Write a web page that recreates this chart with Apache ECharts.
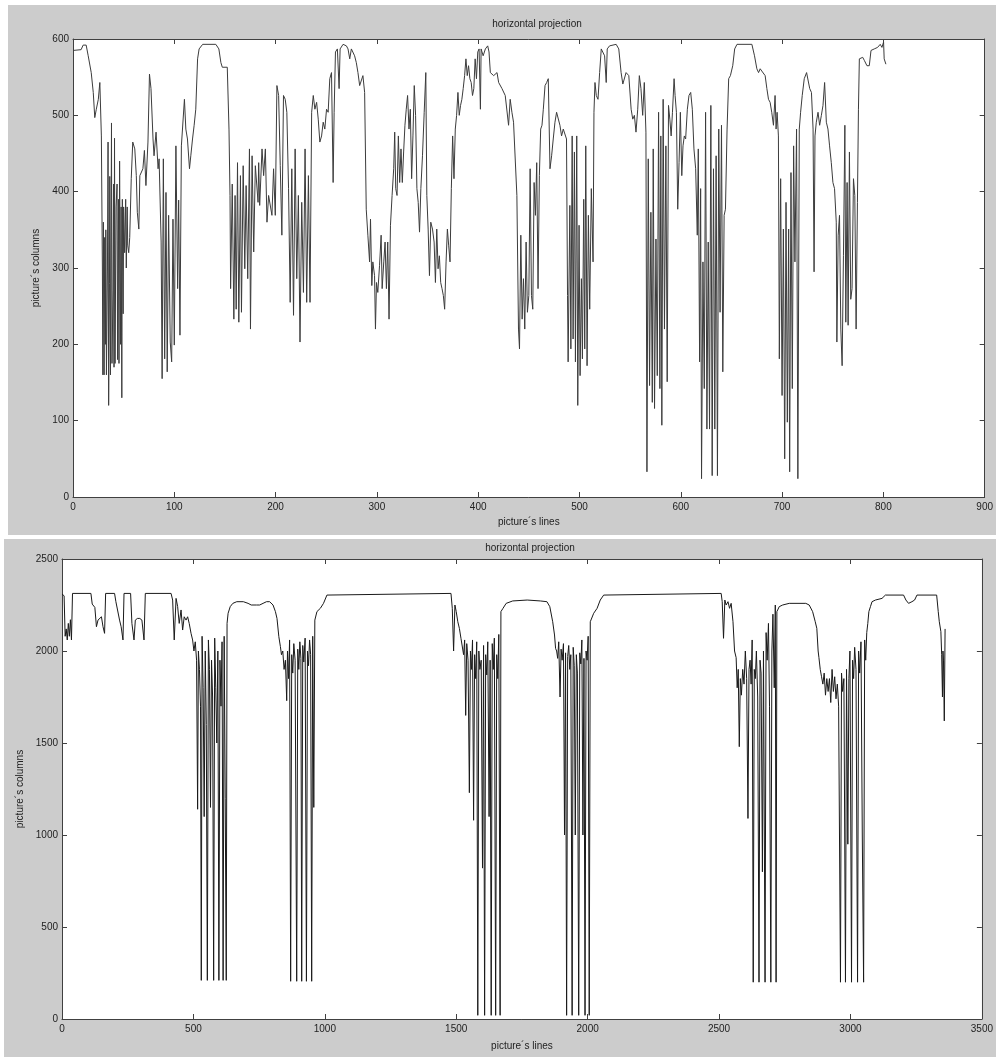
<!DOCTYPE html>
<html><head><meta charset="utf-8">
<script src="https://cdn.jsdelivr.net/npm/echarts@6/dist/echarts.min.js"></script>
<style>html,body{margin:0;padding:0;background:#fff}#c{width:996px;height:1057px}</style>
</head><body><div id="c"></div>
<script>
// Top chart: [picture line, projection value]
const topSeries = [
[0,585],[8,586],[10,592],[13,592],[15,578],[18,556],[20,530],[21.5,497],[23,508],[25,521],[26.5,543],[28,473],
[29,300],[29.5,160],[30,360],[30.7,160],[31.3,340],[32,200],[32.4,350],[33,160],[34,300],[34.6,465],[35.2,120],[36,280],[36.3,420],[37,160],[38,490],[38.5,175],[39.5,270],[40,410],[40.5,170],[41,470],[41.5,175],[42.5,380],[43.5,410],[44,180],[45,390],[45.4,175],[46,440],[47,200],[47.5,380],[48.2,130],[48.7,390],[49.5,240],[50,380],[51,320],[52,390],[52.6,300],[53.5,380],[54,330],[55,320],[56,340],
[57.5,417],[59,465],[61,456],[62.5,421],[63.5,373],[65,351],[66,421],[69,430],[70.5,454],[72,408],[74,465],[75.5,554],[77,535],[79,469],[80,447],[82,478],[84,430],[85,443],[87,334],[88,155],[89.2,443],[90.5,181],[91.8,399],[93,164],[94.4,369],[96,203],[97.4,177],[98.7,364],[100,199],[101.6,460],[103.3,273],[104.3,389],[105.6,212],[107,460],[108.2,460],[110,521],[111.4,482],[113,469],[115,430],[116.3,447],[118,469],[119.6,487],[121.2,508],[123,574],[124.5,587],[128,593],[141,593],[144,587],[146,569],[147.4,563],[152.3,563],[154,482],[155,395],
[155.6,273],[157.2,410],[158.8,233],[160,395],[161.1,246],[162.4,438],[163.7,229],[165.3,421],[166.3,242],[168,434],[169.6,299],[170.9,408],[172.5,286],[174.2,456],[175.2,220],[176.8,447],[178.4,321],[180,434],[182.7,386],[183.3,438],[184.3,382],[186.6,456],[188.2,421],[189.9,456],[191.5,360],[193.1,395],[194.8,395],[196.4,369],[198,430],[199.7,369],[201.3,539],[203,526],[204.6,434],[206.2,343],[207.8,526],[209.5,521],[211.1,504],[212.8,404],[214.4,255],[216,430],[217.7,238],[219.3,456],[220.9,286],[222.5,395],[224.1,203],[225.8,386],[227.5,268],[229.1,456],[230.7,255],[232.4,421],
[234,255],[235.6,504],[237.2,526],[238.8,508],[240.5,517],[242.1,495],[243.7,465],[245.4,473],[247,491],[248.6,482],[250.3,508],[251.9,504],[253.5,548],[255.2,556],[256.8,412],[257.8,504],[259.1,583],[261,587],[262.7,535],[263.7,587],[266.6,593],[269.9,591],[271.5,587],[273.2,574],[274.8,587],[276.4,589],[278,578],[279.7,569],[281.3,556],[283,539],[284.6,539],[286.2,552],[287.9,530],
[289.5,377],[291.1,343],[292.8,308],[293.7,364],[295,277],[296,308],[297.7,290],[298.6,220],[299.6,281],[300.9,268],[302.6,303],[304.2,343],[305.2,273],[306.8,308],[308.1,334],[309.4,273],[310.7,334],[312,233],[313.4,356],[315,395],[316.6,430],[317.6,478],[318.6,404],[319.9,395],[321.2,473],[322.5,412],[323.8,456],[325.1,412],[326.4,452],[327.7,487],[329,508],[330.3,526],[331.7,482],[333,508],[334.3,417],[335.6,473],[336.9,539],[338.2,500],[339.5,404],[340.8,386],[342.1,347],[343.4,404],[345,447],[346.7,504],[348.3,556],[349.3,395],[350.6,351],[351.9,290],[353.2,360],[354.9,351],[356.5,334],[357.8,281],[359.1,351],[360.4,299],[361.7,316],[363,281],[364.3,273],[365.6,264],[366.9,246],[368.3,308],[369.6,351],[370.9,329],[372.2,308],[373.5,404],[374.8,473],[376.1,417],[377.4,482],[378.7,500],[380,530],[381.3,500],[382.6,513],[383.9,521],[385.2,535],[386.6,552],[387.9,574],[389.2,552],[390.5,565],[391.8,548],[393.1,543],[394.4,526],[395.7,535],[397,574],[398.3,548],[399.6,583],[400.9,587],[402.2,508],[402.9,587],[404.9,578],[407.1,587],[409.4,591],[410.7,583],[412,556],[415.3,552],[418.6,556],[420.2,543],[423.5,535],[426.7,526],[430,487],[431.6,521],[433.3,504],[434.9,491],[436.5,491],
[438.2,395],[439.8,220],[440.8,194],[442.1,343],[443.4,233],[444.7,286],[446,220],[447.3,334],[448.6,242],[450,264],[451.3,430],[452.6,264],[453.9,246],[455.2,412],[456.5,369],[457.8,438],[459.1,273],[460.4,421],[461.7,482],[463,487],[464.3,508],[466,539],
[467.6,543],[469.2,548],[470.9,430],[472.5,447],[474.1,469],[475.8,491],[477.4,504],[479,504],[480.7,487],[482.3,473],[484,482],[485.6,482],[487.2,469],
[488.2,264],[488.8,177],[490.5,382],[491.5,194],[492.8,473],[493.7,207],[495,452],[496,177],[497.3,473],[498.3,120],[499.6,356],[500.6,159],[501.9,286],[502.9,181],[504.2,390],[505.2,194],[506.2,460],[507.5,172],[508.8,369],[510.1,246],[511.7,404],[513.4,308],[514.3,504],[515.3,543],[516.6,526],[518.3,521],[519.9,556],[521.5,587],[523.2,587],[524.8,578],[526.4,543],[527.4,587],[529.7,591],[536.2,593],[538.8,587],[541.1,556],[542.8,541],[544.4,543],[546,556],[548.7,552],[551,508],[552.6,495],[554.2,500],[555.8,478],[557.5,508],[559.1,552],[560.7,535],[562.4,500],[564,543],[565.6,478],
[566.6,33],[567.9,443],[569.2,146],[570.5,373],[571.9,124],[572.8,456],[574.1,116],[575.5,338],[576.8,159],[578.1,504],[579.4,142],[580.3,473],[581.3,94],[582.6,521],[583.9,220],[585.3,460],[586.6,151],[587.9,513],[589.2,495],[590.5,473],[591.8,504],[593.4,548],[594.4,526],[595.7,504],[597,377],[598.3,438],[599.6,504],[601,421],[602.2,460],[603.5,473],[604.8,469],[606.5,508],[608.1,526],[609.8,530],[611.4,508],[613,456],[614.7,430],[616.3,343],[617.3,456],
[618.6,177],[619.6,404],[620.5,24],[621.9,308],[623.2,142],[624.5,504],[625.8,89],[627.1,334],[628.4,89],[629.7,513],[631,28],[632.3,430],[633.6,89],[634.9,447],[636.2,28],[637.5,482],[638.8,242],[640.2,487],[641.5,164],[642.8,369],[644.1,377],[645.7,482],[647.3,548],[649,552],[651.3,565],[653.2,587],[655.5,593],[670.2,593],[672.8,578],[675.1,561],[676.8,556],[678.4,561],[680,558],[681.7,558],[683.3,552],[685,535],[686.6,521],[688.2,517],[689.8,504],[691.5,487],[693.1,526],[694.1,482],[695.1,504],[696.4,473],
[697.3,181],[698.6,417],[700,133],[701.3,351],[702.6,50],[703.9,386],[705.2,98],[706.5,351],[707.5,33],[708.8,425],[710.1,142],[711.4,460],[712.7,308],[714.3,482],[715.6,24],[717,482],[718.3,504],[719.9,526],[721.9,548],[724.2,556],
[727.3,535],[729,530],[730.6,482],[731.6,295],[732.5,473],[733.8,491],[735.5,504],[737.1,487],[738.8,500],[740.4,513],[742,543],[743.7,491],[745.3,482],[746.9,460],[748.6,438],[750.2,412],[751.8,404],[753.5,360],
[754.1,203],[755.4,343],[756.7,369],[758,220],[759.3,172],[760.6,316],[762,487],[762.9,229],[764.2,412],[765.2,225],[766.5,452],[767.8,259],[769.1,273],[770.5,417],[771.8,395],[773.1,220],[774.4,386],[775.4,508],[776.3,574],[778,574],[779.6,576],[781.2,572],[783.8,565],[786.1,565],[787.8,585],[791,587],[794.3,589],[796.9,593],[798.6,589],[800.2,596],[800.8,574],[802.5,567]
];

// Bottom chart: [picture line, projection value]
const bottomSeries = [
[0,2310],[8,2300],[12,2080],[16,2120],[20,2060],[24,2150],[28,2080],[32,2170],[36,2060],[40,2313],
[110,2313],[115,2255],[125,2237],[131,2132],[137,2168],[150,2186],[156,2132],[162,2096],[166,2313],
[200,2313],[205,2268],[212,2259],[219,2168],[225,2132],[232,2060],[236,2313],[261,2313],[266,2150],[274,2060],[279,2168],[287,2177],[296,2177],[304,2168],[312,2060],[317,2313],
[415,2313],[421,2277],[427,2060],[434,2286],[440,2241],[446,2150],[453,2223],[459,2114],[465,2186],[472,2168],[478,2186],[484,2150],[491,2096],[497,2060],
[502,2000],[507,2050],[512,1950],[516,1140],[519,2000],[523,1900],[527,1700],[530,210],[533,2080],[537,1800],[541,1100],[545,2000],[549,1600],[553,210],[557,2060],[561,1900],[565,1150],[569,1950],[573,1750],[577,210],[581,2070],[585,1800],[589,1500],[593,2000],[597,210],[601,1950],[605,1700],[609,2050],[613,210],[617,2080],[621,1200],[625,210],[628,2150],[632,2205],
[640,2241],[650,2259],[665,2268],[690,2268],[708,2259],[720,2250],[727,2241],[740,2250],[752,2250],[765,2259],[778,2268],[790,2268],[803,2250],[812,2214],[818,2177],[825,2078],[831,2024],
[835,1980],[840,2000],[845,1900],[850,1950],[855,1730],[858,2000],[862,1850],[866,2060],[870,205],[874,1980],[878,1880],[882,2040],[887,1950],[893,205],[897,2010],[901,1900],[905,2050],[909,1960],[912,205],[916,2030],[920,1940],[925,2070],[930,205],[934,2000],[938,1920],[942,2060],[946,1980],[950,205],[954,2080],[958,1150],[962,2168],[970,2214],[983,2232],[995,2259],[1008,2304],[1015,2313],
[1480,2313],
[1485,2232],[1490,2000],[1495,2250],[1500,2214],[1506,2159],[1512,2123],[1518,2069],[1524,2078],[1528,1980],[1532,2060],[1536,1650],[1540,2040],[1545,1950],[1550,1230],[1554,2000],[1558,1900],[1562,2060],[1566,1080],[1570,1980],[1574,1850],[1578,2050],[1582,20],[1586,2000],[1590,1900],[1595,1950],[1600,820],[1604,2030],[1608,20],[1612,1980],[1616,1870],[1620,2050],[1625,1100],[1629,1950],[1633,20],[1637,2040],[1641,1900],[1645,2070],[1650,20],[1654,1980],[1658,1850],[1662,2090],[1667,20],[1670,2214],[1678,2232],[1690,2259],[1715,2272],[1770,2277],[1820,2272],[1845,2268],[1856,2241],[1862,2232],[1867,2159],[1874,2087],[1878,2014],
[1882,2000],[1886,1960],[1890,2050],[1895,1750],[1899,2010],[1903,1950],[1908,2040],[1912,1000],[1916,1990],[1920,20],[1924,1970],[1928,2030],[1932,1900],[1936,1980],[1941,20],[1945,2020],[1949,1920],[1953,1000],[1957,1980],[1961,1880],[1966,20],[1970,1990],[1974,1930],[1978,2060],[1982,1000],[1986,1960],[1990,20],[1994,2000],[1998,1950],[2002,2080],[2006,20],[2010,2159],[2023,2205],[2036,2232],[2048,2277],[2061,2304],[2063,2313],
[2508,2313],
[2512,2268],[2517,2069],[2522,2277],[2527,2250],[2534,2268],[2540,2232],[2546,2259],[2553,2159],[2559,2000],[2565,1964],[2569,1800],[2573,1900],[2577,1480],[2581,1850],[2585,1760],[2590,1900],[2595,1820],[2600,2000],[2605,1850],[2610,1090],[2614,1900],[2618,1950],[2622,1820],[2626,2060],[2630,200],[2634,1900],[2638,1850],[2642,2000],[2647,1750],[2652,200],[2656,1950],[2660,1880],[2665,800],[2669,2000],[2675,200],[2679,2100],[2683,1950],[2688,2150],[2692,1700],[2697,200],[2701,2000],[2705,2200],[2710,1800],[2714,2250],[2717,200],[2720,2214],[2729,2241],[2742,2250],[2767,2259],[2830,2259],[2843,2250],[2856,2214],[2866,2159],[2872,2123],[2877,2000],[2880,1964],
[2885,1900],[2890,1860],[2895,1820],[2900,1880],[2905,1760],[2910,1850],[2915,1780],[2920,1850],[2925,1720],[2930,1900],[2935,1780],[2940,1860],[2945,1740],[2950,1820],[2955,1700],[2962,200],[2966,1880],[2970,1780],[2975,1850],[2981,200],[2985,1900],[2990,950],[2994,1850],[2998,2000],[3004,200],[3008,1950],[3012,1850],[3016,2020],[3021,1900],[3027,200],[3031,2000],[3035,1880],[3040,2050],[3045,1000],[3050,200],[3054,2060],[3058,1950],[3062,2100],[3066,2150],[3070,2214],[3076,2241],[3082,2268],[3095,2277],[3120,2286],[3133,2304],[3202,2304],[3211,2277],[3221,2259],[3234,2268],[3244,2277],[3253,2304],[3328,2304],[3334,2214],[3338,2159],[3344,2105],[3347,1982],[3350,1750],[3352,2000],[3354,1946],[3357,1620],[3360,2120]
];

const titleText = 'horizontal projection';
const xName = 'picture\u00b4s lines';
const yName = 'picture\u00b4s columns';

const FONT = '"Liberation Sans Narrow","Liberation Sans",Arial,sans-serif';
const AX = '#404040';
const chart = echarts.init(document.getElementById('c'), null, {renderer:'canvas'});
const plain = v => String(v);

function xAx(grid, max, interval, pos, main, gap){
  return {type:'value', gridIndex:grid, min:0, max:max, interval:interval, position:pos,
    name: main ? xName : '', nameLocation:'middle', nameGap:gap,
    nameTextStyle:{fontFamily:FONT, fontSize:10, color:'#222'},
    axisLine:{show:true, onZero:false, lineStyle:{color:AX, width:1}},
    axisTick:{show:true, inside:true, length:5, lineStyle:{color:AX}},
    axisLabel:{show:main, formatter:plain, fontFamily:FONT, fontSize:10, color:'#222', margin:5},
    splitLine:{show:false}};
}
function yAx(grid, max, interval, pos, main, gap){
  return {type:'value', gridIndex:grid, min:0, max:max, interval:interval, position:pos,
    name: main ? yName : '', nameLocation:'middle', nameGap:gap, nameRotate:90,
    nameTextStyle:{fontFamily:FONT, fontSize:10, color:'#222'},
    axisLine:{show:true, onZero:false, lineStyle:{color:AX, width:1}},
    axisTick:{show:true, inside:true, length:5, lineStyle:{color:AX}},
    axisLabel:{show:main, formatter:plain, fontFamily:FONT, fontSize:10, color:'#222', margin:4},
    splitLine:{show:false}};
}

chart.setOption({
  animation:false,
  backgroundColor:'#ffffff',
  graphic:[
    {type:'rect', shape:{x:8, y:5, width:988, height:530}, style:{fill:'#cccccc'}, z:-10},
    {type:'rect', shape:{x:4, y:539, width:992, height:518}, style:{fill:'#cccccc'}, z:-10}
  ],
  title:[
    {text:titleText, left:532, top:14, textAlign:'center', textStyle:{fontFamily:FONT, fontSize:10, fontWeight:'normal', color:'#222'}},
    {text:titleText, left:525, top:538, textAlign:'center', textStyle:{fontFamily:FONT, fontSize:10, fontWeight:'normal', color:'#222'}}
  ],
  grid:[
    {left:73, top:39, width:918, height:458, show:true, backgroundColor:'#ffffff', borderWidth:0},
    {left:62, top:559, width:925, height:460, show:true, backgroundColor:'#ffffff', borderWidth:0}
  ],
  xAxis:[
    xAx(0, 900, 100, 'bottom', true, 20),
    xAx(0, 900, 100, 'top', false, 0),
    xAx(1, 3500, 500, 'bottom', true, 22),
    xAx(1, 3500, 500, 'top', false, 0)
  ],
  yAxis:[
    yAx(0, 600, 100, 'left', true, 30),
    yAx(0, 600, 100, 'right', false, 0),
    yAx(1, 2500, 500, 'left', true, 30),
    yAx(1, 2500, 500, 'right', false, 0)
  ],
  series:[
    {type:'line', xAxisIndex:0, yAxisIndex:0, data:topSeries, showSymbol:false, symbol:'none',
     lineStyle:{color:'#3c3c3c', width:1}, sampling:null},
    {type:'line', xAxisIndex:2, yAxisIndex:2, data:bottomSeries, showSymbol:false, symbol:'none',
     lineStyle:{color:'#1a1a1a', width:1}, sampling:null}
  ]
});
</script></body></html>
